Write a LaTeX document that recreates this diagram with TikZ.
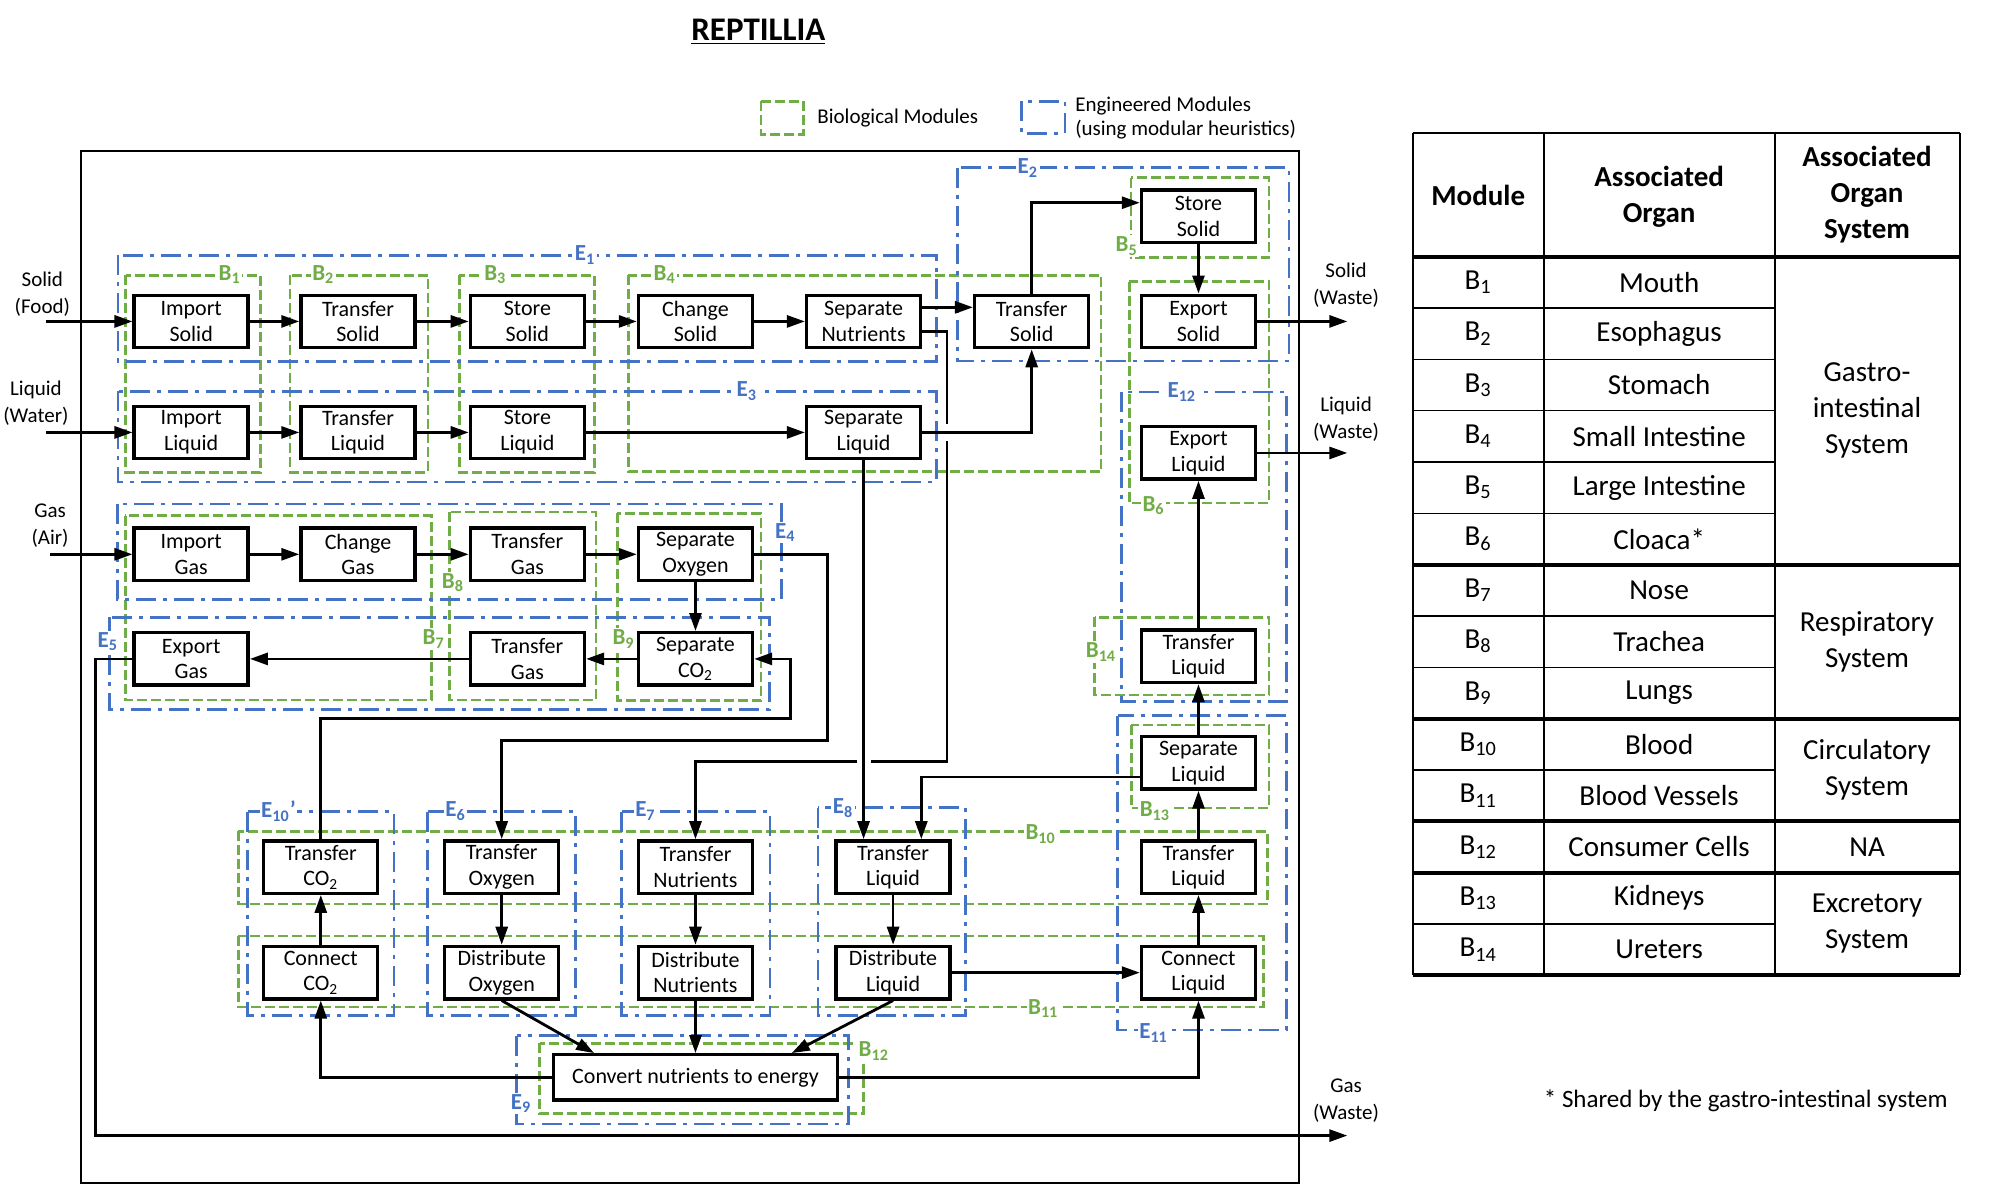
\documentclass[tikz,border=0pt]{standalone}
\usepackage{fontspec}
\setmainfont{Carlito}
\usetikzlibrary{arrows.meta, calc}
\definecolor{biogreen}{RGB}{112,173,71}
\definecolor{engblue}{RGB}{68,114,196}
\tikzset{
  fn/.style={rectangle, draw=black, fill=white, line width=1.7pt,
    minimum width=57pt, minimum height=26.2pt, inner sep=1pt,
    align=center, font=\fontsize{11}{12.8}\selectfont},
  widefn/.style={fn, minimum width=142pt, minimum height=22.7pt},
  flow/.style={-{Triangle[length=9pt, width=6pt]}, line width=1.4pt, color=black},
  hop/.style={draw=white, line width=3.5pt},
  bio/.style={draw=biogreen, line width=1.4pt, dash pattern=on 5pt off 2pt},
  eng/.style={draw=engblue, line width=1.4pt,
    dash pattern=on 10pt off 3.5pt on 2pt off 3.5pt},
  biolbl/.style={font=\fontsize{11.5}{13}\selectfont\bfseries, text=biogreen,
    fill=white, inner sep=0.8pt},
  englbl/.style={font=\fontsize{11.5}{13}\selectfont\bfseries, text=engblue,
    fill=white, inner sep=0.8pt},
  io/.style={align=center, font=\fontsize{10.5}{13.5}\selectfont},
  cell/.style={align=center, font=\fontsize{14.5}{18}\selectfont},
  hdr/.style={align=center, font=\fontsize{14.5}{18}\selectfont\bfseries},
  thinrule/.style={line width=0.7pt},
  thickrule/.style={line width=2pt}
}
\begin{document}
\begin{tikzpicture}[x=0.6416pt, y=-0.6416pt]
  \useasboundingbox (0,0) rectangle (1568,937);

  % Title and legend
  \node[font=\fontsize{16.5}{18}\selectfont\bfseries] (title) at (591,25) {\underline{REPTILLIA}};
  \draw[bio] (593,79) rectangle (626,104.6);
  \node[anchor=west, font=\fontsize{10.5}{11.7}\selectfont] (legB) at (631.5,92) {Biological Modules};
  \draw[eng] (796,79) rectangle (830,104);
  \node[anchor=west, align=left, font=\fontsize{10.5}{11.7}\selectfont] (legE) at (832.5,92)
    {Engineered Modules\\(using modular heuristics)};

  % Outer frame
  \draw[line width=1pt] (63,118) rectangle (1012,921.6);

  % Biological modules
  \draw[bio] (98,214.5) rectangle (203,368);        % B1
  \draw[bio] (226,214.5) rectangle (333.5,368);     % B2
  \draw[bio] (358,214.5) rectangle (463,368);       % B3
  \draw[bio] (489.6,214.5) rectangle (858,367.6);   % B4
  \draw[bio] (881.4,138.5) rectangle (989,200.8);   % B5
  \draw[bio] (880,219.5) rectangle (989,392);       % B6
  \draw[bio] (97.5,402) rectangle (336,545.5);      % B7
  \draw[bio] (350,399) rectangle (464.5,545.5);     % B8
  \draw[bio] (481,400) rectangle (593,546);         % B9
  \draw[bio] (185.6,648) rectangle (988,704.5);     % B10
  \draw[bio] (185.6,729.5) rectangle (984.5,784.8); % B11
  \draw[bio] (420.5,813) rectangle (673,868);       % B12
  \draw[bio] (881.5,565) rectangle (989,629.7);     % B13
  \draw[bio] (853,481) rectangle (989,541.6);       % B14

  % Engineered modules
  \draw[eng] (92,199) rectangle (729.6,282);          % E1
  \draw[eng] (746,130.7) rectangle (1004.6,281.3);    % E2
  \draw[eng] (92,305) rectangle (729.6,375.7);        % E3
  \draw[eng] (91.4,392.8) rectangle (609,467);        % E4
  \draw[eng] (85.5,481) rectangle (599.5,553);        % E5
  \draw[eng] (333,632.5) rectangle (448.7,791.5);     % E6
  \draw[eng] (484.5,632.5) rectangle (600,791.5);     % E7
  \draw[eng] (637.5,629.4) rectangle (752.6,791.5);   % E8
  \draw[eng] (402.6,807) rectangle (661,876);         % E9
  \draw[eng] (193,632.5) rectangle (307,791.5);       % E10'
  \draw[eng] (871,557.7) rectangle (1002.7,802.7);    % E11
  \draw[eng] (874,305.5) rectangle (1002.7,546.8);    % E12

  % Module labels
  \foreach \n/\lx/\ly in {1/179/214, 2/252/214, 3/386/214, 4/518/214, 5/878/192,
      6/899/394, 7/338/498, 8/353/454, 9/486/498, 10/811/650, 11/813/786,
      12/681/819, 13/900/632, 14/858/508}
    \node[biolbl] (lblB\n) at (\lx,\ly) {B\textsubscript{\n}};
  \foreach \n/\lx/\ly in {1/456/199, 2/801/131, 3/582/305, 4/612/415, 5/84/500,
      6/355/632, 7/503/632, 8/657/630, 9/406/860, 11/899/805, 12/921/305.5}
    \node[englbl] (lblE\n) at (\lx,\ly) {E\textsubscript{\n}};
  \node[englbl] (lblE10) at (217,632) {E\textsubscript{10}'};

  % Solid line
  \node[fn] (impS) at (149,250.5) {Import\\Solid};
  \node[fn] (trS) at (279,250.5) {Transfer\\Solid};
  \node[fn] (stS) at (411,250.5) {Store\\Solid};
  \node[fn] (chS) at (542,250.5) {Change\\Solid};
  \node[fn] (sepN) at (673,250.5) {Separate\\Nutrients};
  \node[fn] (trSE) at (804,250.5) {Transfer\\Solid};
  \node[fn] (stSE) at (934,168.5) {Store\\Solid};
  \node[fn] (exS) at (934,250.5) {Export\\Solid};
  % Liquid line
  \node[fn] (impL) at (149,337) {Import\\Liquid};
  \node[fn] (trL) at (279,337) {Transfer\\Liquid};
  \node[fn] (stL) at (411,337) {Store\\Liquid};
  \node[fn] (sepL) at (673,337) {Separate\\Liquid};
  \node[fn] (exL) at (934,353) {Export\\Liquid};
  % Gas line
  \node[fn] (impG) at (149,432) {Import\\Gas};
  \node[fn] (chG) at (279,432) {Change\\Gas};
  \node[fn] (trG) at (411,432) {Transfer\\Gas};
  \node[fn] (sepO) at (542,432) {Separate\\Oxygen};
  \node[fn] (exG) at (149,513.5) {Export\\Gas};
  \node[fn] (trGB) at (411,513.5) {Transfer\\Gas};
  \node[fn] (sepC) at (542,513.5) {Separate\\CO\textsubscript{2}};
  % Excretory column
  \node[fn] (trLU) at (934,511.5) {Transfer\\Liquid};
  \node[fn] (sepLK) at (934,594.5) {Separate\\Liquid};
  \node[fn] (trLB) at (934,675.7) {Transfer\\Liquid};
  \node[fn] (conL) at (934,758) {Connect\\Liquid};
  % Circulation rows
  \node[fn] (trC) at (250,675.7) {Transfer\\CO\textsubscript{2}};
  \node[fn] (trO) at (391,675.7) {Transfer\\Oxygen};
  \node[fn] (trN) at (542,675.7) {Transfer\\Nutrients};
  \node[fn] (trLE) at (696,675.7) {Transfer\\Liquid};
  \node[fn] (conC) at (250,758) {Connect\\CO\textsubscript{2}};
  \node[fn] (disO) at (391,758) {Distribute\\Oxygen};
  \node[fn] (disN) at (542,758) {Distribute\\Nutrients};
  \node[fn] (disL) at (696,758) {Distribute\\Liquid};
  \node[widefn] (conv) at (542,839.7) {Convert nutrients to energy};

  % Inputs and outputs
  \node[io] (inS) at (33,229.5) {Solid\\(Food)};
  \node[io] (inL) at (28,314) {Liquid\\(Water)};
  \node[io] (inG) at (39,410) {Gas\\(Air)};
  \node[io] (outS) at (1049,222.5) {Solid\\(Waste)};
  \node[io] (outL) at (1049,326.5) {Liquid\\(Waste)};
  \node[io] (outG) at (1049,858) {Gas\\(Waste)};
  \coordinate (srcS) at (36,250.5);
  \coordinate (srcL) at (36,337);
  \coordinate (srcG) at (39,432);
  \coordinate (snkS) at (1050,250.5);
  \coordinate (snkL) at (1050,353);
  \coordinate (snkG) at (1050,885);

  % Rows
  \draw[flow] (srcS) -- (impS);
  \draw[flow] (impS) -- (trS);
  \draw[flow] (trS) -- (stS);
  \draw[flow] (stS) -- (chS);
  \draw[flow] (chS) -- (sepN);
  \draw[flow] (srcL) -- (impL);
  \draw[flow] (impL) -- (trL);
  \draw[flow] (trL) -- (stL);
  \draw[flow] (stL) -- (sepL);
  \draw[flow] (srcG) -- (impG);
  \draw[flow] (impG) -- (chG);
  \draw[flow] (chG) -- (trG);
  \draw[flow] (trG) -- (sepO);
  \draw[flow] (sepO) -- (sepC);
  \draw[flow] (sepC) -- (trGB);
  \draw[flow] (trGB) -- (exG);
  \draw[flow] (exG.west) -- ++(-29,0) |- (snkG);

  % Nutrients to circulation (with hops)
  \draw[flow] ($(sepN.east)+(0,-11)$) -- ($(trSE.west)+(0,-11)$);
  \coordinate (nutR) at (738,593.6);
  \draw[flow] ($(sepN.east)+(0,8)$) -| (nutR) -| (trN.north);
  \draw[hop] (nutR |- sepL.east) ++(0,-6.5) -- ++(0,13);
  \draw[hop] (sepL.south |- nutR) ++(-5.5,0) -- ++(11,0);
  \draw[flow] (sepL.east) -| (trSE.south);
  \draw[flow] (sepL.south) -- (sepL.south |- trLE.north);

  % Large intestine and cloaca
  \draw[flow] (trSE.north) |- ($(stSE.west)+(0,-10.5)$);
  \draw[flow] (stSE) -- (exS);
  \draw[flow] (exS.east) -- (snkS);
  \draw[flow] (exL.east) -- (snkL);

  % Excretory column
  \draw[flow] (trLU) -- (exL);
  \draw[flow] (sepLK) -- (trLU);
  \draw[flow] (trLB) -- (sepLK);
  \draw[flow] (conL) -- (trLB);
  \draw[flow] ($(sepLK.west)+(0,11)$) -| ($(trLE.north)+(22,0)$);

  % Gas exchange
  \coordinate (co2R) at (616,560);
  \draw[flow] (trC.north) |- (co2R) |- (sepC.east);
  \coordinate (oxR) at (645,577);
  \draw[flow] (sepO.east) -| (oxR) -| (trO.north);

  % Circulation
  \draw[flow] (trO) -- (disO);
  \draw[flow] (trN) -- (disN);
  \draw[flow] (trLE) -- (disL);
  \draw[flow] (disL) -- (conL);
  \draw[flow] (conC) -- (trC);
  \draw[flow] (disO.south) -- ($(conv.north)+(-79,0)$);
  \draw[flow] (disN) -- (conv);
  \draw[flow] (disL.south) -- ($(conv.north)+(75,0)$);
  \draw[flow] (conv.east) -| (conL.south);
  \draw[flow] (conv.west) -| (conC.south);

  % Table
  \foreach \ry in {240,280,320,360,400,480,520,600,720}
    \draw[thinrule] (1100.8,\ry) -- (1383.3,\ry);
  \foreach \ry in {200,440,560,640,680,760}
    \draw[thickrule] (1100.8,\ry) -- (1527.5,\ry);
  \draw[line width=1pt] (1100.8,104) -- (1527.5,104);
  \foreach \cx in {1100.8,1203,1383.3,1527.5}
    \draw[line width=1pt] (\cx,104) -- (\cx,760);
  \node[hdr] (hMod) at (1152,152) {Module};
  \node[hdr] (hOrg) at (1293,153) {Associated\\Organ};
  \node[hdr] (hSys) at (1455,152) {Associated\\Organ\\System};
  \foreach \i/\organ in {1/Mouth, 2/Esophagus, 3/Stomach, 4/Small Intestine,
      5/Large Intestine, 6/Cloaca*, 7/Nose, 8/Trachea, 9/Lungs, 10/Blood,
      11/Blood Vessels, 12/Consumer Cells, 13/Kidneys, 14/Ureters} {
    \node[cell] (mod\i) at (1152,{180+40*\i}) {B\textsubscript{\i}};
    \node[cell] (org\i) at (1293,{180+40*\i}) {\organ};
  }
  \node[cell] (sysGI) at (1455,320) {Gastro-\\intestinal\\System};
  \node[cell] (sysR) at (1455,500) {Respiratory\\System};
  \node[cell] (sysC) at (1455,600) {Circulatory\\System};
  \node[cell] (sysNA) at (1455,660) {NA};
  \node[cell] (sysE) at (1455,720) {Excretory\\System};
  \node[font=\fontsize{12.5}{15}\selectfont] (note) at (1360.5,858) {* Shared by the gastro-intestinal system};
\end{tikzpicture}
\end{document}
